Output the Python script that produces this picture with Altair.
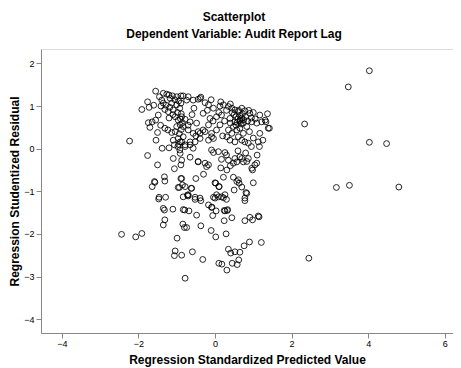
import altair as alt
import pandas as pd

# Regression Standardized Predicted Value (x) and Studentized Residual (y)
pred_upper_left = [-1.55,-1.35,-1.26,-1.20,-1.11,-1.00,-0.89,-1.76,-1.72,-1.91,-1.39,-1.35,-1.41,-1.13,-1.00,-0.89,-1.31,-1.22,-1.09,-1.48,-1.55,-1.64,-1.74,-1.70,-1.04,-0.96,-0.91,-0.85,-1.31,-1.23,-1.13,-1.04,-1.50,-1.54,-2.23,-1.09,-0.96,-0.87,-0.83,-1.38,-1.20,-1.06,-0.97,-0.92,
                   -1.17,-1.05,-0.95,-1.28,-1.18,-0.92,-0.98,-0.88,-1.10,-1.20,-0.90,-1.00,-0.88,-1.42,-1.60,-1.45,-0.93,-0.95]
resid_upper_left = [1.35,1.30,1.28,1.26,1.24,1.22,1.24,1.10,0.97,0.92,1.14,1.07,1.00,1.07,1.03,1.07,0.92,0.87,0.91,0.79,0.67,0.63,0.61,0.50,0.75,0.67,0.56,0.61,0.48,0.44,0.38,0.40,0.38,0.20,0.18,0.20,0.24,0.16,0.28,0.01,0.02,0.09,0.05,-0.03,
                    1.18,1.15,1.12,1.02,0.97,0.95,0.85,0.82,0.80,0.72,0.70,0.52,0.45,0.55,1.02,1.22,0.35,0.10]

pred_lower_left = [-1.76,-1.09,-1.50,-1.06,-0.89,-0.89,-1.32,-1.31,-1.58,-1.64,-0.96,-0.85,-1.46,-1.29,-1.47,-1.35,-1.32,-1.10,-0.83,-1.31,-1.35,-0.84,-0.80,-2.44,-2.07,-1.91,-0.99,-1.04,-1.06,-0.87,-0.78,-0.93,-0.91,-1.57]
resid_lower_left = [-0.16,-0.23,-0.38,-0.47,-0.38,-0.70,-0.66,-0.76,-0.77,-0.89,-0.91,-0.85,-1.14,-1.14,-1.18,-1.40,-1.44,-1.42,-1.43,-1.67,-1.79,-1.77,-1.85,-2.01,-2.07,-1.99,-2.10,-2.40,-2.51,-2.50,-3.04,-0.91,-0.11,-0.79]

pred_upper_mid = [-0.83,-0.70,-0.57,-0.44,-0.37,-0.26,-0.17,-0.04,0.13,0.22,0.35,0.44,0.52,0.61,0.70,0.78,0.91,1.00,1.17,1.37,
                  -0.87,-0.78,-0.65,-0.48,-0.31,-0.13,0.04,0.17,0.39,0.52,0.65,0.74,0.83,0.96,1.09,1.22,1.39,1.31,
                  0.48,0.57,0.65,0.74,0.61,0.70,0.78,0.87,0.52,0.44,0.35,0.31,0.39,
                  1.17,1.13,1.16,1.42,1.33,
                  -0.83,-0.70,-0.57,-0.44,-0.31,-0.17,-0.09,-0.04,-0.17,-0.39,-0.52,-0.65,-0.78,-0.91,0.04,0.13,
                  -0.39,-0.74,-0.65,-0.78,-0.57,-0.39,-0.26,-0.09,
                  0.50,0.55,0.60,0.65,0.70,0.75,0.58,0.68,0.62,0.80,0.85,0.45,0.55,0.72,0.66,0.88,0.95,1.05,0.40,0.30,0.25,0.10,-0.05,-0.20,-0.55,-0.60,-0.70,-0.50,0.20,0.90,1.00,1.25,0.95,0.15,-0.10,0.40]
resid_upper_mid = [1.24,1.22,1.14,1.16,1.21,1.08,1.03,0.95,1.00,1.03,0.99,0.95,0.91,0.87,0.95,0.89,0.83,0.85,0.79,0.82,
                   0.75,0.69,0.63,0.60,0.83,0.71,0.75,0.79,0.71,0.63,0.67,0.60,0.52,0.63,0.60,0.63,0.48,0.67,
                   0.52,0.44,0.48,0.36,0.28,0.20,0.16,0.13,0.16,0.36,0.44,0.28,0.20,
                   0.36,0.16,0.05,0.48,0.63,
                   0.52,0.44,0.36,0.40,0.44,0.56,0.36,0.24,0.20,0.24,0.16,0.09,0.05,0.16,0.44,0.56,
                   1.18,1.14,0.16,0.09,0.01,0.36,0.40,0.28,
                   0.80,0.75,0.70,0.78,0.72,0.68,0.62,0.58,0.90,0.75,0.65,0.85,0.55,0.82,0.64,0.90,0.72,0.70,0.60,0.90,0.65,0.85,0.65,0.90,0.95,0.80,0.55,0.30,0.30,0.40,0.25,0.20,0.05,1.10,1.15,1.05]

pred_lower_mid = [-0.87,-0.44,-0.26,-0.09,-0.04,0.09,0.26,0.35,0.52,0.57,0.48,0.65,0.74,0.87,0.96,1.04,1.09,
                  0.31,0.22,0.00,0.11,0.48,0.61,0.63,0.50,0.83,-0.87,-0.78,-0.61,-0.70,-0.52,-0.39,-0.04,0.04,0.17,0.26,0.78,
                  -0.65,-0.44,-0.22,-0.17,0.17,0.70,0.83,0.98,0.57,0.81,
                  -0.83,-0.70,-0.52,-0.37,-0.17,-0.09,0.00,0.09,0.22,0.30,0.78,
                  -0.79,-0.68,-0.48,-0.06,0.03,0.26,0.33,0.24,0.44,0.78,0.91,0.98,1.15,1.13,
                  -0.74,-0.37,-0.10,0.02,0.29,
                  -0.59,-0.32,0.35,0.41,0.52,0.65,0.76,0.90,1.21,0.10,0.18,0.45,0.58,0.62,0.31,
                  -0.62,-0.72,0.02,0.10,0.24,0.32,-0.08,
                  0.30,0.60,0.80,1.10,0.40,-0.30,-0.50,0.70,1.00,0.15]
resid_lower_mid = [-0.27,-0.31,-0.34,-0.03,-0.09,-0.07,-0.09,-0.27,-0.23,-0.31,-0.34,-0.19,-0.31,-0.23,-0.46,-0.38,-0.34,
                   -0.50,-0.67,-0.80,-0.89,-0.67,-0.73,-0.81,-0.97,-1.05,-0.70,-0.89,-0.93,-1.08,-1.14,-1.16,-1.14,-1.08,-1.13,-1.08,-1.16,
                   -0.20,-0.30,-0.42,-0.38,-0.25,-0.23,-0.30,-0.50,-0.77,-1.03,
                   -1.13,-1.11,-1.19,-1.22,-1.32,-1.38,-1.16,-1.13,-1.15,-1.19,-1.22,
                   -1.44,-1.46,-1.56,-1.57,-1.46,-1.46,-1.43,-1.69,-1.62,-1.69,-1.61,-1.67,-1.60,-1.58,
                   -1.85,-1.81,-1.92,-2.07,-2.00,
                   -2.42,-2.60,-2.36,-2.45,-2.42,-2.43,-2.28,-2.19,-2.20,-2.69,-2.71,-2.69,-2.72,-2.61,-2.85,
                   -0.93,-1.09,-0.81,-0.89,-1.45,-1.45,-1.37,
                   -0.15,-0.05,-0.10,-0.15,-0.40,-0.60,-0.70,-0.90,-0.80,-0.45]

pred_outliers = [2.34,4.03,3.48,4.03,4.48,3.17,3.51,4.80,2.45]
resid_outliers = [0.58,1.83,1.45,0.15,0.12,-0.91,-0.86,-0.90,-2.57]

x_ticks = [-4, -2, 0, 2, 4, 6]
y_ticks = [-4, -3, -2, -1, 0, 1, 2]

df = pd.DataFrame({
    "pred": pred_upper_left + pred_lower_left + pred_upper_mid + pred_lower_mid + pred_outliers,
    "resid": resid_upper_left + resid_lower_left + resid_upper_mid + resid_lower_mid + resid_outliers,
})

FONT = "Liberation Sans"

chart = alt.Chart(df).mark_point(
    filled=False, color="#000000", strokeWidth=1, size=34, opacity=0.85
).encode(
    x=alt.X("pred:Q", title="Regression Standardized Predicted Value",
            scale=alt.Scale(domain=[-4.543, 6.214], nice=False, zero=False),
            axis=alt.Axis(values=x_ticks, grid=False, tickSize=5, labelPadding=1,
                          titleY=33, titleBaseline="bottom",
                          labelFontSize=9, titleFontSize=12)),
    y=alt.Y("resid:Q", title="Regression Studentized Residual",
            scale=alt.Scale(domain=[-4.326, 2.34], nice=False, zero=False),
            axis=alt.Axis(values=y_ticks, grid=False, tickSize=5, labelPadding=2,
                          titleX=-27, titleY=142, titleBaseline="middle",
                          labelFontSize=9, titleFontSize=12)),
).properties(
    width=412, height=284,
    title=alt.TitleParams(
        text="Scatterplot",
        subtitle="Dependent Variable: Audit Report Lag",
        anchor="middle", dx=-13, offset=8, subtitlePadding=5,
        font=FONT, fontSize=12, fontWeight="bold", color="#000000",
        subtitleFont=FONT, subtitleFontSize=12, subtitleFontWeight="bold", subtitleColor="#000000",
    ),
    autosize=alt.AutoSizeParams(type="none"),
    padding={"left": 33, "top": 41, "right": 0, "bottom": 35},
).configure_view(
    fill="#F0F0F0", stroke="#8C8C8C", strokeWidth=1
).configure_axis(
    domainColor="#444444", tickColor="#444444", labelColor="#333333",
    labelFont=FONT, titleFont=FONT, titleFontWeight="bold", titleColor="#000000",
).configure(background="#FFFFFF")

chart.save("out.html", embed_options={"renderer": "svg", "actions": False})
